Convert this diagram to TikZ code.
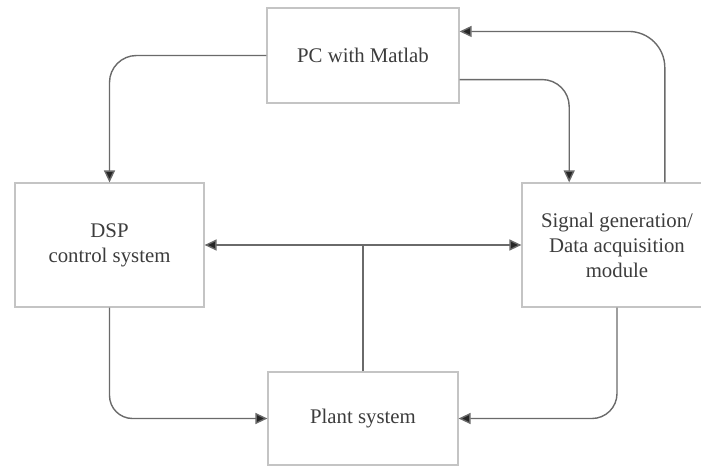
\documentclass[tikz,border=0pt]{standalone}
\usepackage{fontspec}
\setmainfont{Liberation Serif}
\newfontfamily\blockfont{Liberation Serif}
\usepackage{tikz}
\usetikzlibrary{calc, positioning, arrows.meta}

\definecolor{boxgray}{HTML}{C4C4C4}
\definecolor{linegray}{HTML}{6A6A6A}
\definecolor{textgray}{HTML}{3C3C3C}

\tikzset{
    block/.style={draw=boxgray, line width=0.6pt, inner sep=0pt, align=center,
        text=textgray, font=\blockfont\fontsize{10.4}{12.5}\selectfont},
    link/.style={draw=linegray, line width=0.7pt},
    tip/.style={-{Triangle[length=6pt, width=5.5pt, fill=black!85]}}
}

\begin{document}
\begin{tikzpicture}[x=0.5pt, y=-0.5pt]
            \clip (0, 0) rectangle (701, 466);
            \node[block, minimum width=96pt, minimum height=47.5pt] (pc) at (363, 55.5) {PC with Matlab};
            \node[block, minimum width=94.5pt, minimum height=62pt] (dsp) at (109.5, 245) {DSP\\control system};
            \node[block, minimum width=95pt, minimum height=62pt] (sig) at (617, 245) {Signal generation/\\Data acquisition\\module};
            \node[block, minimum width=95pt, minimum height=46.5pt] (plant) at (363, 418.5) {Plant system};
            \coordinate (bus) at (plant.north |- dsp.east);
            \draw[link, tip, rounded corners=13.5pt] (pc.west) -| (dsp.north);
            \draw[link, tip, rounded corners=13.5pt] ($(pc.south east)!0.25!(pc.north east)$) -| ($(sig.north west)!0.25!(sig.north east)$);
            \draw[link, tip, rounded corners=18pt] ($(sig.north west)!0.75!(sig.north east)$) |- ($(pc.south east)!0.75!(pc.north east)$);
            \draw[link, {Triangle[length=6pt, width=5.5pt, fill=black!85]}-{Triangle[length=6pt, width=5.5pt, fill=black!85]}] (dsp.east) -- (sig.west);
            \draw[link] (plant.north) -- (bus);
            \draw[link, tip, rounded corners=11.5pt] (dsp.south) |- (plant.west);
            \draw[link, tip, rounded corners=12.5pt] (sig.south) |- (plant.east);
        \end{tikzpicture}
\end{document}
